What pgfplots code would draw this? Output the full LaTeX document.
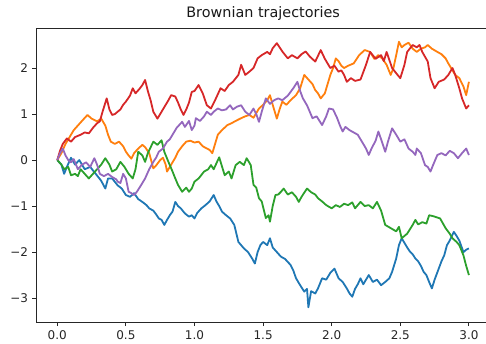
\documentclass[border=0pt]{standalone}
\usepackage{fontspec}
\setmainfont{DejaVu Sans}
\usepackage{pgfplots}
\pgfplotsset{compat=1.18}
\definecolor{c0}{HTML}{1F77B4}
\definecolor{c1}{HTML}{FF7F0E}
\definecolor{c2}{HTML}{2CA02C}
\definecolor{c3}{HTML}{D62728}
\definecolor{c4}{HTML}{9467BD}
\begin{document}
\begin{tikzpicture}
\useasboundingbox (-36.7pt,-22pt) rectangle (449.3pt,322pt);
\begin{axis}[
  at={(0pt,0pt)}, anchor=south west,
  scale only axis, width=452.8pt, height=294pt,
  xmin=-0.15, xmax=3.15, ymin=-3.52, ymax=2.87,
  axis line style={line width=0.95pt, black!85},
  tick align=outside, tick pos=left, major tick length=4.2pt,
  every tick/.style={black!85, line width=0.95pt},
  xtick={0,0.5,1,1.5,2,2.5,3}, xticklabels={0.0,0.5,1.0,1.5,2.0,2.5,3.0},
  ytick={-3,-2,-1,0,1,2}, yticklabels={−3,−2,−1,0,1,2},
  tick label style={font=\fontsize{12}{14}\selectfont, text=black!85},
  yticklabel style={inner sep=0pt, xshift=-4.2pt},
  xticklabel style={inner sep=0pt, yshift=-4.2pt},
  title={Brownian trajectories},
  title style={at={(0.5,1)}, anchor=south, inner sep=0pt, yshift=1.2pt, font=\fontsize{14.4}{17}\selectfont, text=black!90},
  every axis plot/.append style={line width=1.8pt, line join=round, mark=none},
]
% blue
\addplot[c0] coordinates {
(0,0) (0.03,-0.1) (0.05,-0.3) (0.07,-0.15) (0.1,0.05) (0.13,-0.1) (0.16,0.0) (0.2,-0.2) (0.24,-0.15) (0.28,-0.3) (0.32,-0.45) (0.35,-0.62) (0.37,-0.4) (0.4,-0.4) (0.44,-0.55) (0.47,-0.62) (0.50,-0.76) (0.53,-0.8) (0.56,-0.72) (0.59,-0.85) (0.62,-0.91) (0.65,-0.98) (0.67,-1.05) (0.70,-1.1) (0.72,-1.18) (0.74,-1.27) (0.76,-1.3) (0.78,-1.41) (0.80,-1.3) (0.82,-1.2) (0.84,-1.12) (0.86,-0.91) (0.88,-1.0) (0.90,-1.05) (0.93,-1.16) (0.96,-1.23) (0.98,-1.2) (1.0,-1.27) (1.02,-1.15) (1.05,-1.05) (1.08,-0.98) (1.11,-0.9) (1.14,-0.76) (1.16,-0.9) (1.18,-1.0) (1.20,-1.12) (1.23,-1.2) (1.26,-1.27) (1.29,-1.41) (1.32,-1.78) (1.34,-1.85) (1.36,-1.92) (1.39,-2.0) (1.42,-2.14) (1.44,-2.25) (1.46,-2.0) (1.48,-1.85) (1.50,-1.78) (1.53,-1.85) (1.55,-1.7) (1.57,-1.9) (1.60,-2.0) (1.63,-2.1) (1.66,-2.15) (1.70,-2.28) (1.72,-2.4) (1.74,-2.57) (1.77,-2.72) (1.80,-2.86) (1.82,-2.8) (1.83,-3.2) (1.85,-2.85) (1.88,-2.9) (1.90,-2.79) (1.93,-2.57) (1.96,-2.6) (1.99,-2.45) (2.02,-2.36) (2.05,-2.57) (2.08,-2.65) (2.11,-2.79) (2.13,-2.9) (2.15,-2.97) (2.17,-2.8) (2.19,-2.7) (2.21,-2.57) (2.23,-2.7) (2.25,-2.6) (2.27,-2.5) (2.30,-2.65) (2.33,-2.6) (2.36,-2.72) (2.39,-2.65) (2.42,-2.57) (2.44,-2.43) (2.47,-2.14) (2.49,-1.85) (2.51,-1.70) (2.53,-1.8) (2.55,-1.9) (2.57,-1.99) (2.59,-2.05) (2.61,-2.14) (2.63,-2.2) (2.65,-2.3) (2.67,-2.43) (2.69,-2.5) (2.71,-2.65) (2.73,-2.79) (2.75,-2.6) (2.78,-2.36) (2.80,-2.2) (2.82,-2.07) (2.84,-1.85) (2.86,-1.75) (2.89,-1.56) (2.91,-1.65) (2.93,-1.75) (2.96,-2.0) (2.98,-1.95) (3.0,-1.92)
};
% orange
\addplot[c1] coordinates {
(0,0) (0.03,0.15) (0.06,0.35) (0.09,0.5) (0.12,0.65) (0.15,0.75) (0.18,0.85) (0.22,0.98) (0.25,0.9) (0.29,0.84) (0.32,0.9) (0.35,0.75) (0.37,0.55) (0.39,0.4) (0.42,0.35) (0.45,0.4) (0.48,0.3) (0.50,0.18) (0.52,0.1) (0.54,0.03) (0.56,0.15) (0.59,0.25) (0.62,0.33) (0.64,0.28) (0.67,0.15) (0.70,-0.18) (0.72,-0.12) (0.75,0.0) (0.77,0.05) (0.79,-0.1) (0.80,-0.25) (0.83,-0.1) (0.86,0.05) (0.88,0.18) (0.91,0.3) (0.94,0.40) (0.97,0.42) (1.0,0.38) (1.03,0.4) (1.06,0.3) (1.09,0.25) (1.11,0.22) (1.13,0.15) (1.15,0.35) (1.17,0.55) (1.20,0.65) (1.24,0.76) (1.27,0.8) (1.30,0.85) (1.34,0.91) (1.37,0.95) (1.40,0.98) (1.43,0.92) (1.47,1.12) (1.50,1.2) (1.53,1.30) (1.55,1.41) (1.57,1.2) (1.60,0.90) (1.62,1.1) (1.64,1.27) (1.67,1.2) (1.70,1.3) (1.74,1.41) (1.77,1.56) (1.80,1.85) (1.83,1.75) (1.86,1.65) (1.88,1.52) (1.90,1.45) (1.92,1.34) (1.95,1.45) (1.99,1.85) (2.01,2.0) (2.03,2.21) (2.05,2.15) (2.07,2.05) (2.09,2.0) (2.12,2.05) (2.16,2.1) (2.20,2.28) (2.24,2.39) (2.28,2.35) (2.31,2.2) (2.34,2.28) (2.37,2.2) (2.40,2.07) (2.43,1.85) (2.45,2.0) (2.47,2.28) (2.49,2.57) (2.51,2.45) (2.53,2.5) (2.56,2.55) (2.59,2.42) (2.62,2.35) (2.65,2.42) (2.68,2.45) (2.70,2.5) (2.73,2.42) (2.77,2.35) (2.80,2.3) (2.83,2.21) (2.85,2.1) (2.87,2.0) (2.90,1.85) (2.93,1.78) (2.96,1.6) (2.98,1.41) (3.0,1.70)
};
% green
\addplot[c2] coordinates {
(0,0) (0.03,-0.1) (0.05,-0.2) (0.08,-0.15) (0.1,-0.33) (0.13,-0.3) (0.15,-0.35) (0.17,-0.2) (0.2,-0.3) (0.23,-0.4) (0.26,-0.3) (0.29,-0.2) (0.32,-0.1) (0.35,0.04) (0.38,-0.1) (0.40,-0.25) (0.43,-0.2) (0.46,-0.04) (0.49,-0.15) (0.52,-0.3) (0.55,-0.4) (0.57,-0.2) (0.59,0.18) (0.62,0.1) (0.64,-0.04) (0.66,0.15) (0.70,0.40) (0.73,0.33) (0.76,0.43) (0.78,0.18) (0.81,-0.04) (0.84,-0.25) (0.86,-0.4) (0.88,-0.54) (0.91,-0.69) (0.94,-0.6) (0.96,-0.69) (0.98,-0.62) (1.0,-0.47) (1.03,-0.4) (1.07,-0.25) (1.10,-0.2) (1.12,-0.11) (1.14,-0.2) (1.18,0.06) (1.22,-0.33) (1.25,-0.25) (1.27,-0.4) (1.30,-0.11) (1.33,-0.04) (1.36,-0.11) (1.38,0.04) (1.41,-0.11) (1.43,-0.54) (1.45,-0.6) (1.47,-0.83) (1.49,-0.9) (1.52,-1.26) (1.54,-1.2) (1.55,-1.34) (1.57,-1.0) (1.59,-0.76) (1.61,-0.75) (1.63,-0.69) (1.65,-0.62) (1.68,-0.75) (1.71,-0.7) (1.74,-0.8) (1.76,-0.91) (1.78,-0.8) (1.82,-0.62) (1.85,-0.7) (1.88,-0.75) (1.90,-0.83) (1.93,-0.9) (1.96,-0.98) (2.0,-1.05) (2.03,-0.98) (2.06,-1.02) (2.09,-0.95) (2.12,-0.98) (2.15,-0.92) (2.17,-1.05) (2.21,-0.91) (2.24,-1.0) (2.27,-0.98) (2.30,-1.05) (2.33,-0.91) (2.36,-1.1) (2.39,-1.41) (2.43,-1.48) (2.47,-1.55) (2.49,-1.45) (2.51,-1.70) (2.55,-1.6) (2.59,-1.41) (2.61,-1.3) (2.63,-1.4) (2.66,-1.35) (2.69,-1.38) (2.71,-1.2) (2.74,-1.22) (2.77,-1.25) (2.79,-1.27) (2.83,-1.48) (2.86,-1.6) (2.88,-1.70) (2.91,-1.78) (2.93,-1.85) (2.96,-2.07) (2.98,-2.3) (3.0,-2.50)
};
% red
\addplot[c3] coordinates {
(0,0) (0.02,0.2) (0.04,0.35) (0.07,0.47) (0.1,0.4) (0.13,0.5) (0.17,0.55) (0.2,0.6) (0.23,0.58) (0.26,0.7) (0.29,0.8) (0.31,0.84) (0.33,1.05) (0.36,1.34) (0.38,1.1) (0.40,0.98) (0.42,1.0) (0.44,1.05) (0.46,1.1) (0.48,1.2) (0.50,1.27) (0.53,1.4) (0.55,1.56) (0.57,1.45) (0.60,1.55) (0.62,1.63) (0.64,1.74) (0.66,1.5) (0.68,1.3) (0.70,1.05) (0.73,0.9) (0.76,1.05) (0.79,1.2) (0.81,1.3) (0.83,1.41) (0.86,1.38) (0.88,1.25) (0.90,1.1) (0.92,0.98) (0.94,1.1) (0.96,1.25) (0.98,1.48) (1.0,1.5) (1.03,1.63) (1.06,1.45) (1.09,1.19) (1.12,1.12) (1.15,1.3) (1.19,1.56) (1.22,1.5) (1.25,1.63) (1.28,1.7) (1.32,1.85) (1.34,2.07) (1.37,1.85) (1.40,1.92) (1.43,2.0) (1.46,2.21) (1.49,2.28) (1.53,2.35) (1.55,2.3) (1.57,2.43) (1.60,2.54) (1.62,2.45) (1.64,2.36) (1.68,2.21) (1.71,2.28) (1.75,2.21) (1.78,2.3) (1.81,2.36) (1.84,2.25) (1.88,2.14) (1.92,2.39) (1.95,2.2) (1.99,2.0) (2.02,2.05) (2.05,1.92) (2.07,1.95) (2.09,1.85) (2.11,1.70) (2.14,1.78) (2.17,1.72) (2.21,1.75) (2.25,2.07) (2.28,2.35) (2.32,2.2) (2.36,2.28) (2.38,2.15) (2.40,2.35) (2.44,2.0) (2.48,1.85) (2.50,1.78) (2.53,2.07) (2.55,2.35) (2.59,2.5) (2.62,2.45) (2.64,2.5) (2.66,2.35) (2.70,2.14) (2.72,1.78) (2.75,1.56) (2.78,1.70) (2.82,1.75) (2.85,1.85) (2.88,2.0) (2.90,1.85) (2.93,1.56) (2.95,1.34) (2.98,1.12) (3.0,1.19)
};
% purple
\addplot[c4] coordinates {
(0,0) (0.02,0.15) (0.04,0.25) (0.06,0.1) (0.08,0.0) (0.1,-0.05) (0.12,0.02) (0.15,-0.2) (0.18,-0.1) (0.21,-0.05) (0.24,-0.15) (0.27,0.04) (0.29,-0.1) (0.31,-0.3) (0.34,-0.35) (0.37,-0.3) (0.40,-0.37) (0.43,-0.42) (0.44,-0.47) (0.46,-0.5) (0.48,-0.3) (0.50,-0.4) (0.52,-0.69) (0.54,-0.72) (0.56,-0.76) (0.58,-0.69) (0.61,-0.55) (0.64,-0.4) (0.67,-0.2) (0.70,-0.04) (0.72,0.05) (0.74,0.18) (0.77,0.25) (0.80,0.40) (0.82,0.45) (0.84,0.55) (0.87,0.7) (0.91,0.83) (0.93,0.72) (0.96,0.85) (0.98,0.65) (1.0,0.75) (1.01,0.91) (1.04,0.85) (1.07,0.95) (1.09,1.05) (1.12,0.98) (1.14,1.05) (1.17,1.12) (1.20,1.08) (1.23,1.1) (1.26,1.19) (1.28,1.1) (1.31,1.16) (1.34,1.19) (1.37,1.05) (1.40,0.98) (1.43,1.12) (1.45,1.0) (1.47,0.83) (1.49,1.05) (1.52,1.34) (1.55,1.22) (1.58,1.3) (1.61,1.34) (1.64,1.3) (1.68,1.4) (1.72,1.56) (1.75,1.70) (1.77,1.5) (1.79,1.34) (1.82,1.19) (1.84,1.05) (1.86,0.91) (1.89,0.95) (1.93,0.76) (1.96,0.95) (1.98,1.12) (2.01,1.1) (2.04,0.91) (2.06,0.75) (2.08,0.62) (2.10,0.72) (2.13,0.65) (2.16,0.6) (2.19,0.55) (2.22,0.40) (2.25,0.25) (2.27,0.11) (2.29,0.25) (2.32,0.42) (2.34,0.62) (2.36,0.45) (2.39,0.18) (2.41,0.4) (2.44,0.69) (2.47,0.55) (2.50,0.40) (2.53,0.45) (2.56,0.25) (2.59,0.18) (2.61,0.11) (2.62,0.25) (2.65,0.15) (2.68,-0.11) (2.70,-0.15) (2.72,-0.25) (2.74,-0.1) (2.77,0.11) (2.80,0.15) (2.83,0.1) (2.86,0.2) (2.89,0.15) (2.92,0.04) (2.95,0.15) (2.98,0.25) (3.0,0.11)
};
\end{axis}
\end{tikzpicture}
\end{document}
